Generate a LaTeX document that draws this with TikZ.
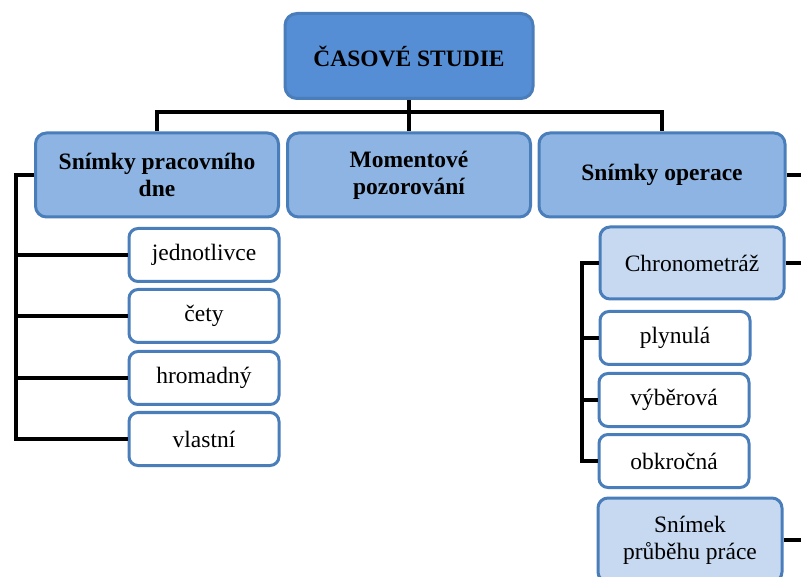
\documentclass[tikz,border=0pt]{standalone}
\usepackage{fontspec}
\setmainfont{Liberation Serif}
\usepackage{tikz}
\usetikzlibrary{positioning}

\definecolor{RootBlue}{HTML}{558ED5}
\definecolor{MidBlue}{HTML}{8DB4E2}
\definecolor{PaleBlue}{HTML}{C6D9F1}
\definecolor{EdgeBlue}{HTML}{4A7EBB}

\begin{document}
\begin{tikzpicture}[x=1pt, y=-1pt]
			\tikzstyle{Box}		= [draw=EdgeBlue, line width=3pt, align=center, inner sep=2pt, font=\fontsize{23.5}{27}\selectfont]
			\tikzstyle{Root}	= [Box, fill=RootBlue, rounded corners=12pt, minimum width=248pt, minimum height=85pt, font=\fontsize{23.5}{27}\selectfont\bfseries]
			\tikzstyle{Branch}	= [Box, fill=MidBlue, rounded corners=11pt, minimum width=243pt, minimum height=84pt, font=\fontsize{23.5}{27}\selectfont\bfseries]
			\tikzstyle{Method}	= [Box, fill=PaleBlue, rounded corners=10pt, minimum width=184pt, minimum height=72pt]
			\tikzstyle{Item}	= [Box, fill=white, rounded corners=9pt, minimum width=150pt, minimum height=53pt]
			\tikzstyle{Link}	= [line width=3.6pt, black]

			\useasboundingbox (0,0) rectangle (801,577);
			\clip (0,0) rectangle (801,577);

			\node (casove) at (409, 56) [Root] {ČASOVÉ STUDIE};

			\node (pracovni) at (157, 175) [Branch] {Snímky pracovního\\dne};
			\node (moment) at (409, 175) [Branch] {Momentové\\pozorování};
			\node (operace) at (662, 175) [Branch, minimum width=246pt] {Snímky operace};

			\node (jednotlivce) at (204, 255) [Item] {jednotlivce};
			\node (cety) at (204, 316) [Item] {čety};
			\node (hromadny) at (204, 378) [Item] {hromadný};
			\node (vlastni) at (204, 439) [Item] {vlastní};

			\node (chrono) at (692, 263) [Method] {Chronometráž};
			\node (plynula) at (675, 338) [Item] {plynulá};
			\node (vyberova) at (674, 400) [Item] {výběrová};
			\node (obkrocna) at (674, 461) [Item] {obkročná};
			\node (prubeh) at (690, 540) [Method, minimum height=84pt] {Snímek\\průběhu práce};

			\coordinate (bar) at (409, 112);
			\coordinate (ltrunk) at (16, 0);
			\coordinate (rtrunk) at (582, 0);
			\coordinate (edge) at (805, 0);

			\draw [Link] (casove) -- (bar);
			\draw [Link] (pracovni.north) |- (bar) -| (operace.north);
			\draw [Link] (bar) -- (moment);

			\draw [Link] (pracovni.west) -| (ltrunk |- vlastni.west) -- (vlastni.west);
			\foreach \n in {jednotlivce, cety, hromadny}
				\draw [Link] (\n.west) -- (\n.west -| ltrunk);

			\draw [Link] (chrono.west) -| (rtrunk |- obkrocna.west) -- (obkrocna.west);
			\foreach \n in {plynula, vyberova}
				\draw [Link] (\n.west) -- (\n.west -| rtrunk);

			\draw [Link] (operace.east) -- (operace.east -| edge);
			\draw [Link] (chrono.east) -- (chrono.east -| edge);
			\draw [Link] (prubeh.east) -- (prubeh.east -| edge);
\end{tikzpicture}
\end{document}
